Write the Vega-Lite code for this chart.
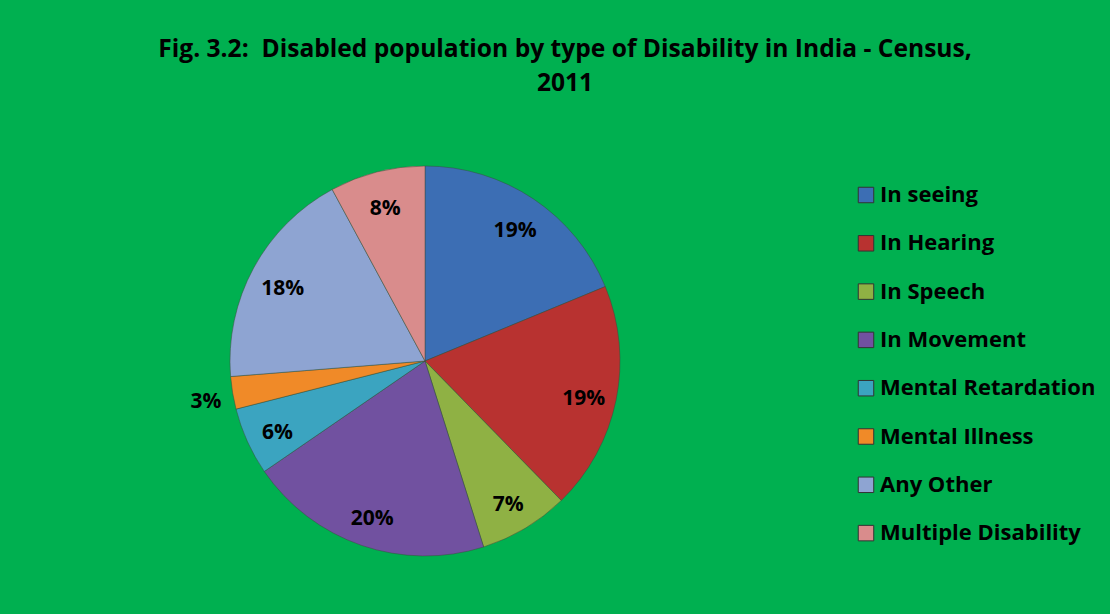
{
  "$schema": "https://vega.github.io/schema/vega-lite/v6.json",
  "autosize": {"type": "none"},
  "width": 500,
  "height": 472,
  "padding": {"left": 175, "top": 125, "right": 435, "bottom": 17},
  "background": "#00B050",
  "view": {"stroke": null},
  "title": {
    "text": ["Fig. 3.2: \u00a0Disabled population by type of Disability in India - Census,", "2011"],
    "font": "Open Sans",
    "fontSize": 24.6,
    "fontWeight": "bold",
    "color": "#000000",
    "anchor": "middle",
    "frame": "group",
    "dx": 140,
    "offset": 28,
    "lineHeight": 34
  },
  "data": {
    "values": [
      {"idx": 1, "type": "In seeing", "share": 0.18770},
      {"idx": 2, "type": "In Hearing", "share": 0.18914},
      {"idx": 3, "type": "In Speech", "share": 0.07454},
      {"idx": 4, "type": "In Movement", "share": 0.20278},
      {"idx": 5, "type": "Mental Retardation", "share": 0.05616},
      {"idx": 6, "type": "Mental Illness", "share": 0.02696},
      {"idx": 7, "type": "Any Other", "share": 0.18377},
      {"idx": 8, "type": "Multiple Disability", "share": 0.07894}
    ]
  },
  "encoding": {
    "theta": {"field": "share", "type": "quantitative", "stack": true},
    "order": {"field": "idx", "type": "quantitative", "sort": "ascending"},
    "color": {
      "field": "type",
      "type": "nominal",
      "sort": ["In seeing", "In Hearing", "In Speech", "In Movement", "Mental Retardation", "Mental Illness", "Any Other", "Multiple Disability"],
      "scale": {
        "domain": ["In seeing", "In Hearing", "In Speech", "In Movement", "Mental Retardation", "Mental Illness", "Any Other", "Multiple Disability"],
        "range": ["#3C6EB4", "#B83230", "#8FB144", "#7151A0", "#3BA4C0", "#F08A28", "#8EA4D2", "#D98C8C"]
      },
      "legend": {
        "title": null,
        "orient": "none",
        "legendX": 680,
        "legendY": 59,
        "padding": 0,
        "symbolType": "square",
        "symbolSize": 240,
        "symbolStrokeColor": "#333333",
        "symbolStrokeWidth": 1,
        "symbolOpacity": 1,
        "labelFont": "Open Sans",
        "labelFontSize": 22,
        "labelFontWeight": "bold",
        "labelColor": "#000000",
        "labelOffset": 3,
        "rowPadding": 26.3,
        "labelLimit": 400
      }
    }
  },
  "layer": [
    {
      "mark": {"type": "arc", "outerRadius": 195, "stroke": "#3a4a3a", "strokeWidth": 0.8, "strokeOpacity": 0.6}
    },
    {
      "mark": {"type": "text", "radius": 162, "dy": 5, "font": "Open Sans", "fontSize": 21, "fontWeight": "bold"},
      "encoding": {
        "text": {"field": "share", "type": "quantitative", "format": ".0%"},
        "fill": {"condition": {"test": "datum.type === 'Mental Illness'", "value": "transparent"}, "value": "#000000"}
      }
    },
    {
      "mark": {"type": "text", "radius": 222, "dy": 5, "font": "Open Sans", "fontSize": 21, "fontWeight": "bold"},
      "encoding": {
        "text": {"field": "share", "type": "quantitative", "format": ".0%"},
        "fill": {"condition": {"test": "datum.type === 'Mental Illness'", "value": "#000000"}, "value": "transparent"}
      }
    }
  ]
}
